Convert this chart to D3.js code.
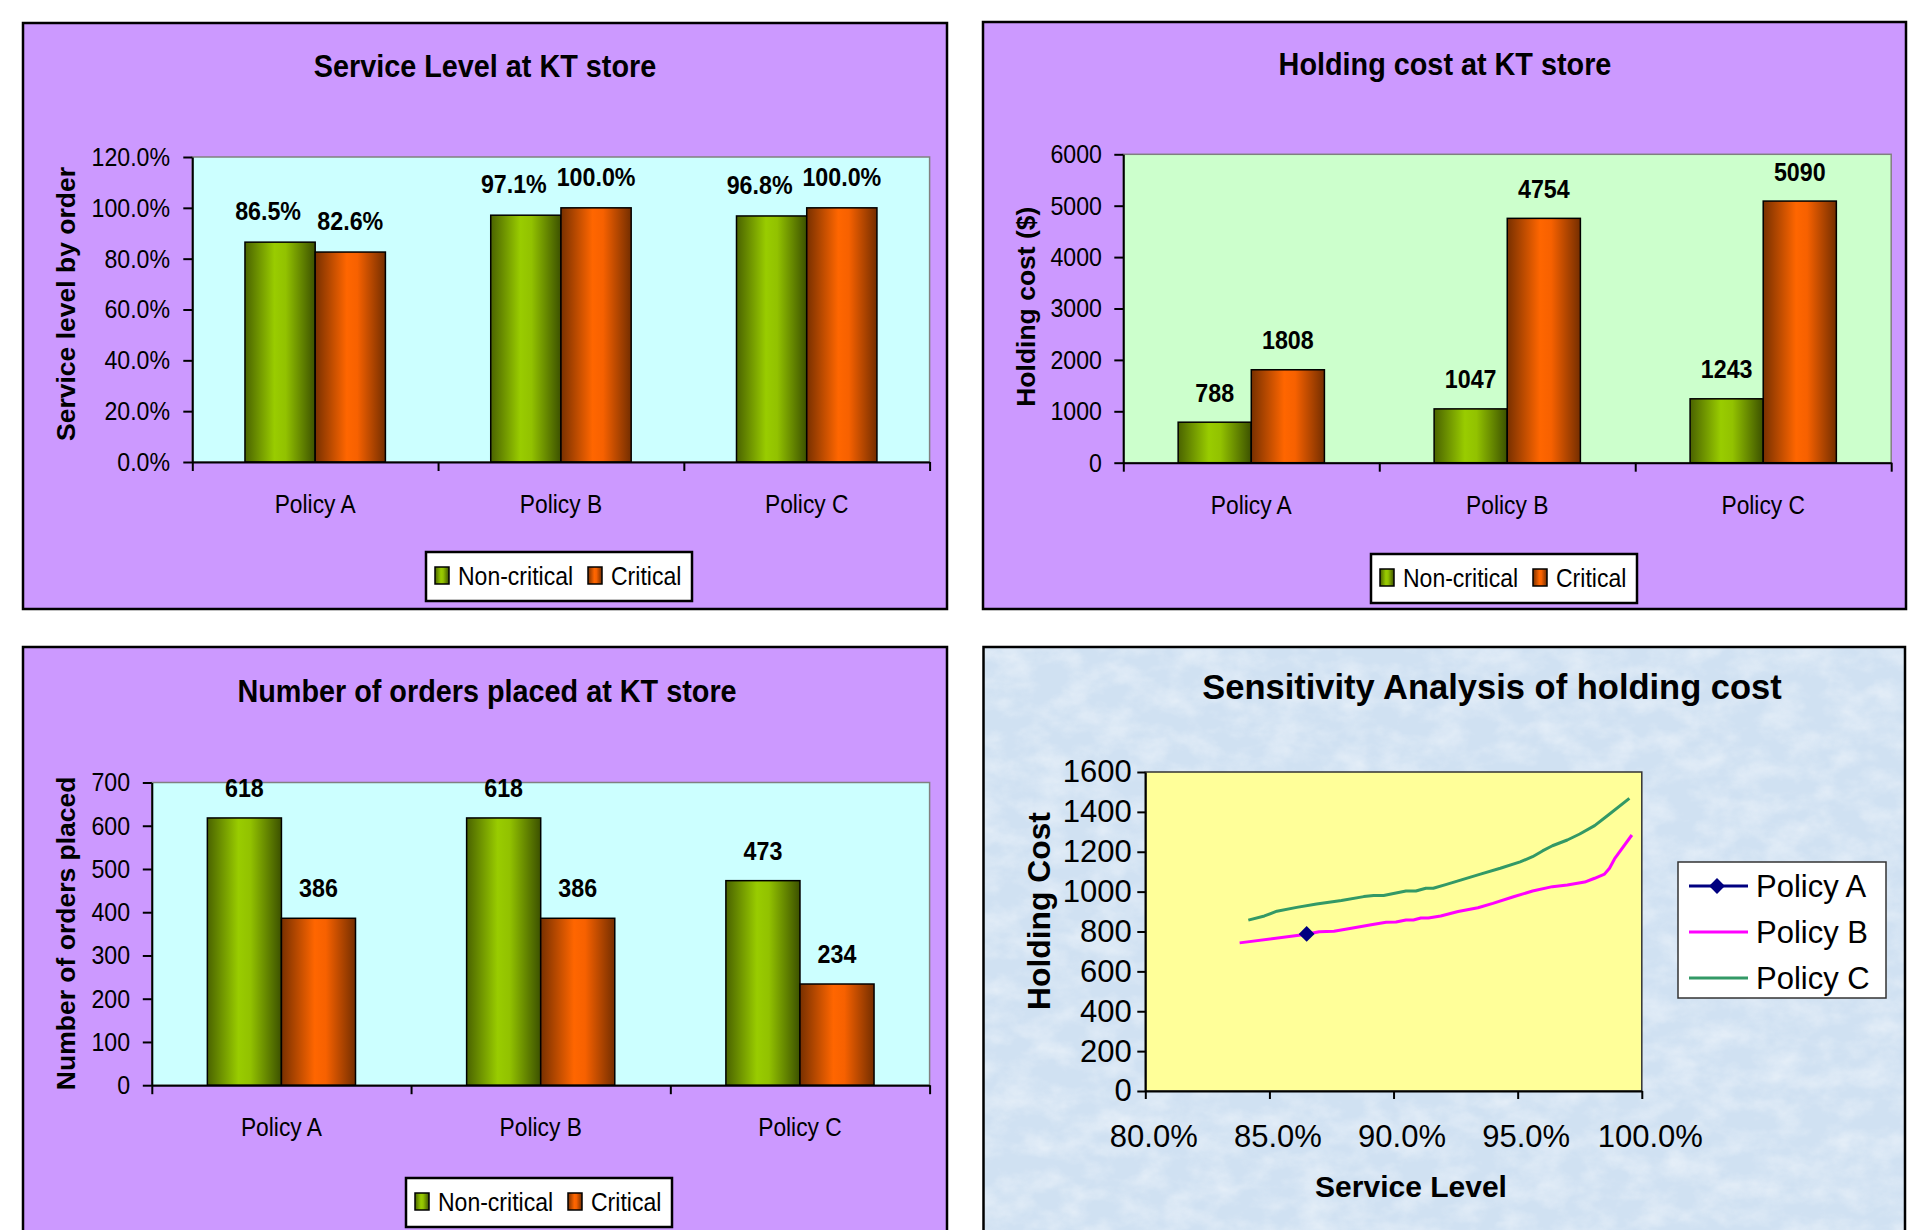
<!DOCTYPE html>
<html>
<head>
<meta charset="utf-8">
<title>KT store charts</title>
<script src="https://cdn.jsdelivr.net/npm/d3@7/dist/d3.min.js"></script>
<style>
  body { margin: 0; background: #fff; }
  svg { display: block; }
  text { font-family: "Liberation Sans", Arial, sans-serif; }
</style>
</head>
<body>
<script>
// categories / series
const policies = ["Policy A", "Policy B", "Policy C"];
const seriesNames = ["Non-critical", "Critical"];

// service level by order
const serviceNonCritical = [0.865, 0.971, 0.968];
const serviceCritical = [0.826, 1.0, 1.0];
const serviceTicks = [0, 0.2, 0.4, 0.6, 0.8, 1.0, 1.2];

// holding cost ($)
const holdingNonCritical = [788, 1047, 1243];
const holdingCritical = [1808, 4754, 5090];
const holdingTicks = [0, 1000, 2000, 3000, 4000, 5000, 6000];

// number of orders placed
const ordersNonCritical = [618, 618, 473];
const ordersCritical = [386, 386, 234];
const ordersTicks = [0, 100, 200, 300, 400, 500, 600, 700];

// sensitivity analysis : [service level, holding cost]
const sensNames = ["Policy A", "Policy B", "Policy C"];
const sensPolicyA = [[0.865, 788]];
const sensPolicyB = [
  [0.838, 743], [0.865, 786], [0.870, 799], [0.876, 801], [0.883, 816], [0.891, 834],
  [0.897, 846], [0.901, 848], [0.905, 858], [0.908, 858], [0.911, 868], [0.914, 868],
  [0.919, 878], [0.926, 900], [0.934, 919], [0.940, 941], [0.948, 973], [0.956, 1003],
  [0.964, 1025], [0.970, 1033], [0.977, 1048], [0.981, 1067], [0.985, 1088],
  [0.987, 1117], [0.989, 1164], [0.996, 1284]
];
const sensPolicyC = [
  [0.8415, 857], [0.848, 878], [0.853, 902], [0.861, 921], [0.869, 938], [0.879, 956],
  [0.888, 975], [0.892, 981], [0.896, 981], [0.901, 993], [0.905, 1003], [0.909, 1003],
  [0.913, 1017], [0.916, 1017], [0.921, 1035], [0.927, 1058], [0.935, 1088], [0.943, 1117],
  [0.951, 1149], [0.956, 1175], [0.960, 1204], [0.964, 1230], [0.970, 1259], [0.975, 1289],
  [0.981, 1331], [0.986, 1379], [0.995, 1468]
];
const sensXTicks = [0.8, 0.85, 0.9, 0.95, 1.0];
const sensYTicks = [0, 200, 400, 600, 800, 1000, 1200, 1400, 1600];

const FONT = '"Liberation Sans", Arial, sans-serif';
const svg = d3.select("body").append("svg").attr("width", 1931).attr("height", 1230);
const defs = svg.append("defs");

// excel style bar shading (dark edges, bright middle)
const addGrad = (id, stops) => {
  const gr = defs.append("linearGradient").attr("id", id)
    .attr("x1", 0).attr("x2", 1).attr("y1", 0).attr("y2", 0);
  stops.forEach(([o, c]) => gr.append("stop").attr("offset", o).attr("stop-color", c));
};
addGrad("gGreen", [[0, "#4a6300"], [0.42, "#99cc00"], [0.58, "#92c200"], [1, "#3c5100"]]);
addGrad("gOrange", [[0, "#783000"], [0.45, "#ff6600"], [0.6, "#f76100"], [1, "#742e00"]]);
const barFills = ["url(#gGreen)", "url(#gOrange)"];

// mottled blue background of the last chart
const mottle = defs.append("filter").attr("id", "mottle")
  .attr("x", 0).attr("y", 0).attr("width", "100%").attr("height", "100%");
mottle.append("feTurbulence").attr("type", "fractalNoise")
  .attr("baseFrequency", "0.03 0.045").attr("numOctaves", 4).attr("seed", 11);
mottle.append("feColorMatrix").attr("type", "matrix")
  .attr("values", "0 0 0 0 1  0 0 0 0 1  0 0 0 0 1  0 0 0 1.5 -0.55");

// text helper: sx squeezes the glyphs horizontally
const addText = (parent, x, y, str, o = {}) =>
  parent.append("text")
    .attr("transform", `translate(${x},${y}) scale(${o.sx || 1},1)` + (o.rot ? ` rotate(${o.rot})` : ""))
    .attr("text-anchor", o.anchor || "middle")
    .attr("font-size", o.size || 25)
    .attr("font-weight", o.bold ? "bold" : "normal")
    .attr("fill", "#000")
    .text(str);

const styleAxis = (ax, size, sx) => {
  ax.attr("font-family", FONT).attr("font-size", size);
  ax.select(".domain").attr("stroke", "#000").attr("stroke-width", 2);
  ax.selectAll(".tick line").attr("stroke", "#000").attr("stroke-width", 2);
  ax.selectAll(".tick text").attr("fill", "#000").attr("transform", `scale(${sx},1)`);
};

// bar chart panel
const barPanel = (cfg) => {
  const g = svg.append("g");
  const [fx0, fy0, fx1, fy1] = cfg.frame;
  const p = cfg.plot;
  g.append("rect").attr("x", fx0).attr("y", fy0).attr("width", fx1 - fx0).attr("height", fy1 - fy0)
    .attr("fill", "#cc99ff").attr("stroke", "#000").attr("stroke-width", 2.5);

  const x = d3.scaleBand().domain(policies).range([p.left, p.right]);
  const xs = d3.scaleBand().domain(seriesNames).range([0, x.bandwidth()]).paddingOuter(0.75);
  const y = d3.scaleLinear().domain([0, cfg.ticks[cfg.ticks.length - 1]]).range([p.bottom, p.top]);

  g.append("rect").attr("x", p.left).attr("y", p.top)
    .attr("width", p.right - p.left).attr("height", p.bottom - p.top)
    .attr("fill", cfg.plotFill).attr("stroke", "#808080").attr("stroke-width", 1.5);

  const rows = policies.map((name, i) => ({ name, vals: cfg.values.map((s) => s[i]) }));
  const grp = g.selectAll(".cat").data(rows).enter().append("g")
    .attr("transform", (d) => `translate(${x(d.name)},0)`);

  grp.selectAll("rect").data((d) => d.vals.map((v, k) => ({ v, k })))
    .enter().append("rect")
    .attr("x", (d) => xs(seriesNames[d.k]))
    .attr("y", (d) => y(d.v))
    .attr("width", xs.bandwidth())
    .attr("height", (d) => p.bottom - y(d.v))
    .attr("fill", (d) => barFills[d.k])
    .attr("stroke", "#000").attr("stroke-width", 1.5);

  // data labels
  grp.each(function (d) {
    d.vals.forEach((v, k) => {
      addText(d3.select(this), xs(seriesNames[k]) + xs.bandwidth() / 2 + cfg.labelShift[k],
        y(v) - cfg.labelGap, cfg.fmtLabel(v), { size: 25, bold: true, sx: 0.93 });
    });
  });

  // value axis
  const ya = g.append("g").attr("transform", `translate(${p.left},0)`)
    .call(d3.axisLeft(y).tickValues(cfg.ticks).tickFormat(cfg.fmtTick)
      .tickSize(9).tickSizeOuter(0).tickPadding(cfg.tickPad));
  styleAxis(ya, 26, 0.89);

  // category axis, ticks at category borders
  const xb = d3.scaleLinear().domain([0, policies.length]).range([p.left, p.right]);
  const xa = g.append("g").attr("transform", `translate(0,${p.bottom})`)
    .call(d3.axisBottom(xb).tickValues(d3.range(policies.length + 1)).tickFormat("")
      .tickSize(9).tickSizeOuter(0));
  styleAxis(xa, 25, 1);

  policies.forEach((name) => addText(g, x(name) + x.bandwidth() / 2, p.bottom + 51, name, { size: 26.5, sx: 0.86 }));

  addText(g, cfg.title.x, cfg.title.y, cfg.title.text, { size: 32, bold: true, sx: 0.9 });
  addText(g, cfg.yTitle.x + 9.5, cfg.yTitle.y, cfg.yTitle.text, { size: 26.5, bold: true, rot: -90 });

  // legend
  const L = cfg.legend;
  const lg = g.append("g").attr("transform", `translate(${L.x},${L.y})`);
  lg.append("rect").attr("width", 266).attr("height", 49)
    .attr("fill", "#fff").attr("stroke", "#000").attr("stroke-width", 2.5);
  const itemX = [9, 162];
  seriesNames.forEach((s, k) => {
    lg.append("rect").attr("x", itemX[k]).attr("y", 15).attr("width", 14).attr("height", 17)
      .attr("fill", barFills[k]).attr("stroke", "#000").attr("stroke-width", 1.5);
    addText(lg, itemX[k] + 23, 33, s, { size: 26, sx: 0.885, anchor: "start" });
  });
};

barPanel({
  frame: [23, 23, 947, 609],
  plot: { left: 192.3, right: 929.6, top: 157, bottom: 462 },
  plotFill: "#ccffff",
  values: [serviceNonCritical, serviceCritical],
  ticks: serviceTicks,
  fmtTick: d3.format(".1%"),
  fmtLabel: d3.format(".1%"),
  tickPad: 16,
  labelGap: 22,
  labelShift: [-12, 0],
  title: { x: 485, y: 77, text: "Service Level at KT store" },
  yTitle: { x: 65, y: 304, text: "Service level by order" },
  legend: { x: 426, y: 552 }
});

barPanel({
  frame: [983, 22, 1906, 609],
  plot: { left: 1123.3, right: 1891.2, top: 154.3, bottom: 462.7 },
  plotFill: "#ccffcc",
  values: [holdingNonCritical, holdingCritical],
  ticks: holdingTicks,
  fmtTick: d3.format("d"),
  fmtLabel: d3.format("d"),
  tickPad: 15,
  labelGap: 20.5,
  labelShift: [0, 0],
  title: { x: 1445, y: 74.5, text: "Holding cost at KT store" },
  yTitle: { x: 1025, y: 306.7, text: "Holding cost ($)" },
  legend: { x: 1371, y: 554 }
});

barPanel({
  frame: [23, 647, 947, 1245],
  plot: { left: 151.8, right: 929.6, top: 782.5, bottom: 1085.2 },
  plotFill: "#ccffff",
  values: [ordersNonCritical, ordersCritical],
  ticks: ordersTicks,
  fmtTick: d3.format("d"),
  fmtLabel: d3.format("d"),
  tickPad: 15.5,
  labelGap: 21,
  labelShift: [0, 0],
  title: { x: 487, y: 702, text: "Number of orders placed at KT store" },
  yTitle: { x: 65, y: 933.3, text: "Number of orders placed" },
  legend: { x: 406, y: 1178 }
});

// sensitivity analysis panel
(() => {
  const g = svg.append("g");
  const f = [983.5, 647, 1905, 1245];
  g.append("rect").attr("x", f[0]).attr("y", f[1]).attr("width", f[2] - f[0]).attr("height", f[3] - f[1])
    .attr("fill", "#d0e1f2");
  g.append("rect").attr("x", f[0]).attr("y", f[1]).attr("width", f[2] - f[0]).attr("height", f[3] - f[1])
    .attr("filter", "url(#mottle)").attr("opacity", 0.55);
  g.append("rect").attr("x", f[0]).attr("y", f[1]).attr("width", f[2] - f[0]).attr("height", f[3] - f[1])
    .attr("fill", "none").attr("stroke", "#000").attr("stroke-width", 2.5);

  const p = { left: 1145.3, right: 1641.8, top: 772, bottom: 1091 };
  const x = d3.scaleLinear().domain([0.8, 1.0]).range([p.left, p.right]);
  const y = d3.scaleLinear().domain([0, 1600]).range([p.bottom, p.top]);

  g.append("rect").attr("x", p.left).attr("y", p.top)
    .attr("width", p.right - p.left).attr("height", p.bottom - p.top)
    .attr("fill", "#ffff99").attr("stroke", "#333").attr("stroke-width", 1.5);

  const ya = g.append("g").attr("transform", `translate(${p.left},0)`)
    .call(d3.axisLeft(y).tickValues(sensYTicks).tickFormat(d3.format("d"))
      .tickSize(8).tickSizeOuter(0).tickPadding(5.6));
  styleAxis(ya, 31, 1);

  const xa = g.append("g").attr("transform", `translate(0,${p.bottom})`)
    .call(d3.axisBottom(x).tickValues(sensXTicks).tickFormat(d3.format(".1%"))
      .tickSize(8).tickSizeOuter(0).tickPadding(26));
  styleAxis(xa, 31, 1);
  xa.selectAll(".tick text").attr("dx", 8);

  const line = d3.line().x((d) => x(d[0])).y((d) => y(d[1]));
  const colors = ["#000080", "#ff00ff", "#339966"];
  [sensPolicyB, sensPolicyC].forEach((s, i) => {
    g.append("path").datum(s).attr("d", line).attr("fill", "none")
      .attr("stroke", colors[i + 1]).attr("stroke-width", 3).attr("stroke-linejoin", "round");
  });
  g.append("path").datum(sensPolicyA).attr("d", line).attr("fill", "none")
    .attr("stroke", colors[0]).attr("stroke-width", 3);
  const diamond = d3.symbol().type(d3.symbolSquare).size(125);
  g.selectAll(".mkA").data(sensPolicyA).enter().append("path")
    .attr("d", diamond)
    .attr("transform", (d) => `translate(${x(d[0])},${y(d[1])}) rotate(45)`)
    .attr("fill", colors[0]);

  addText(g, 1492, 698.5, "Sensitivity Analysis of holding cost", { size: 34.5, bold: true });
  addText(g, 1038 + 11.5, 911, "Holding Cost", { size: 31.8, bold: true, rot: -90 });
  addText(g, 1411, 1197, "Service Level", { size: 30, bold: true });

  // legend
  const lg = g.append("g").attr("transform", "translate(1678,862)");
  lg.append("rect").attr("width", 208).attr("height", 136)
    .attr("fill", "#fff").attr("stroke", "#333").attr("stroke-width", 1.5);
  sensNames.forEach((s, i) => {
    const ry = 24 + i * 46;
    lg.append("line").attr("x1", 11).attr("x2", 70).attr("y1", ry).attr("y2", ry)
      .attr("stroke", colors[i]).attr("stroke-width", 3);
    if (i === 0) {
      lg.append("path").attr("d", diamond).attr("transform", `translate(39,${ry}) rotate(45)`)
        .attr("fill", colors[0]);
    }
    addText(lg, 78, ry + 11, s, { size: 31, anchor: "start" });
  });
})();
</script>
</body>
</html>
